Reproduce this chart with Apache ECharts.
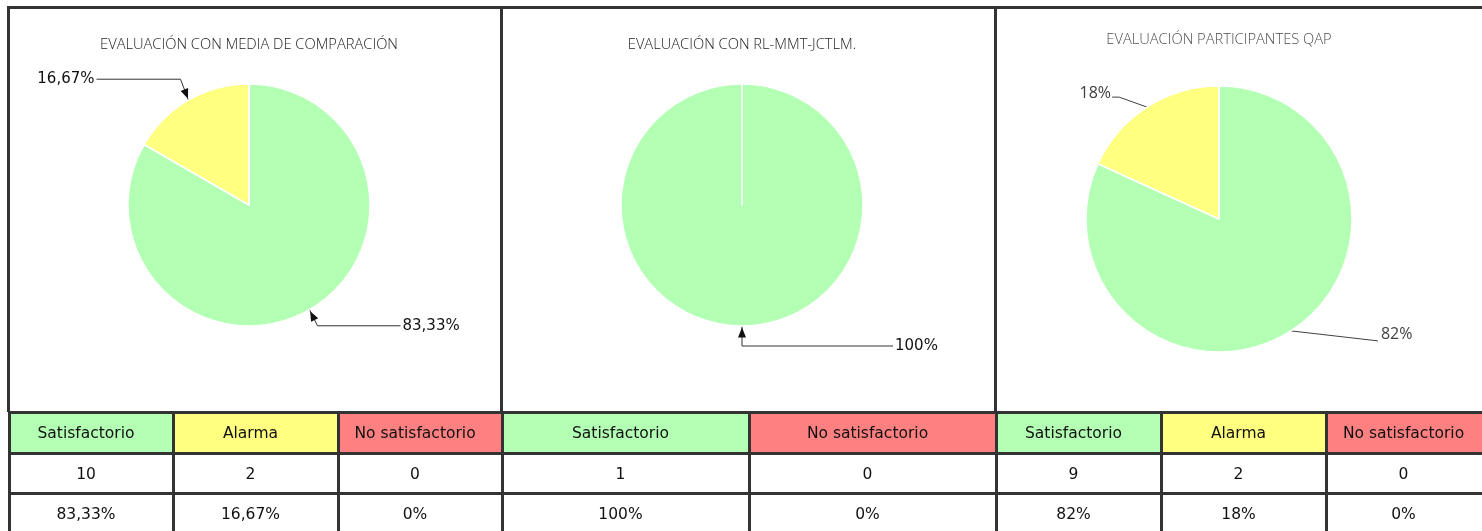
<!DOCTYPE html>
<html>
<head>
<meta charset="utf-8">
<script src="https://cdn.jsdelivr.net/npm/echarts@6.0.0/dist/echarts.min.js"></script>
<style>
  body { margin: 0; background: #fff; width: 1482px; height: 531px; overflow: hidden; position: relative; }
  #chart { position: absolute; left: 0; top: 0; width: 1482px; height: 410px; }
  .line { position: absolute; background: #333; }
  #tbl { position: absolute; left: 8px; top: 411px; border-collapse: collapse; table-layout: fixed;
         font-family: "DejaVu Sans", sans-serif; font-size: 15.5px; color: #111; }
  #tbl td { border: 3px solid #333; text-align: center; padding: 0 11px 0 0; overflow: hidden; white-space: nowrap; }
</style>
</head>
<body>
<div id="chart"></div>
<div class="line" style="left:7px;top:6px;width:1475px;height:3px"></div>
<div class="line" style="left:7px;top:6px;width:3px;height:406px"></div>
<div class="line" style="left:500px;top:6px;width:3px;height:406px"></div>
<div class="line" style="left:994px;top:6px;width:3px;height:406px"></div>
<table id="tbl"></table>
<script>
const titles = ["EVALUACIÓN CON MEDIA DE COMPARACIÓN", "EVALUACIÓN CON RL-MMT-JCTLM.", "EVALUACIÓN PARTICIPANTES QAP"];

const categories1 = ["Satisfactorio", "Alarma", "No satisfactorio"];
const counts1 = [10, 2, 0];
const percents1 = ["83,33%", "16,67%", "0%"];

const categories2 = ["Satisfactorio", "No satisfactorio"];
const counts2 = [1, 0];
const percents2 = ["100%", "0%"];

const categories3 = ["Satisfactorio", "Alarma", "No satisfactorio"];
const counts3 = [9, 2, 0];
const percents3 = ["82%", "18%", "0%"];

const colors = { "Satisfactorio": "#b3ffb3", "Alarma": "#ffff80", "No satisfactorio": "#ff8080" };

const panels = [
  { cats: categories1, counts: counts1, pcts: percents1 },
  { cats: categories2, counts: counts2, pcts: percents2 },
  { cats: categories3, counts: counts3, pcts: percents3 }
];

// table under the pies
const colWidths = [164, 165, 164, 247, 247, 165, 165, 165];
const tbl = document.getElementById("tbl");
const cg = document.createElement("colgroup");
colWidths.forEach(w => { const c = document.createElement("col"); c.style.width = w + "px"; cg.appendChild(c); });
tbl.appendChild(cg);
tbl.style.width = colWidths.reduce((a, b) => a + b, 0) + "px";
const rowHeights = [41, 40, 40];
for (let r = 0; r < 3; r++) {
  const tr = document.createElement("tr");
  tr.style.height = rowHeights[r] + "px";
  panels.forEach(p => {
    p.cats.forEach((c, i) => {
      const td = document.createElement("td");
      if (r === 0) { td.textContent = c; td.style.background = colors[c]; }
      else if (r === 1) td.textContent = p.counts[i];
      else td.textContent = p.pcts[i];
      tr.appendChild(td);
    });
  });
  tbl.appendChild(tr);
}

// pies (zero slices kept: they leave only their white edge, like the original)
const pieData = panels.map(p =>
  p.cats.map((c, i) => {
    const d = { name: c, value: p.counts[i], itemStyle: { color: colors[c] } };
    if (p.counts[i] === 0) {
      d.label = { show: false };
      d.labelLine = { show: false };
    }
    return d;
  })
);

const pieCenters = [[249, 205], [742, 205], [1219, 219]];
const pieRadius = [121, 121, 133];
const titleTops = [37, 37, 32];

// label guide lines: offset of the bend from the slice edge, then horizontal run
const guides = [
  { "Satisfactorio": { bend: [8, 16], run: 83, arrow: true }, "Alarma": { bend: [-8, -21], run: -84, arrow: true } },
  { "Satisfactorio": { bend: [0, 20], run: 151, arrow: true } },
  { "Satisfactorio": { bend: [87, 10], run: 0, lift: -6, gap: 3 }, "Alarma": { bend: [-28, -10], run: -7, lift: -4, gap: 1 } }
];
const labelFonts = [
  { fontFamily: "DejaVu Sans", fontSize: 15, color: "#111" },
  { fontFamily: "DejaVu Sans", fontSize: 15, color: "#111" },
  { fontFamily: "Open Sans", fontSize: 16, color: "#404040" }
];

const arrows = {};

function layoutFor(si) {
  return function (params) {
    const pts = params.labelLinePoints;
    const item = pieData[si][params.dataIndex];
    const g = item && guides[si][item.name];
    if (!pts || !g || item.value === 0) return {};
    const p0 = pts[0];
    const bend = [p0[0] + g.bend[0], p0[1] + g.bend[1]];
    const end = [bend[0] + g.run, bend[1]];
    const right = g.run < 0 || (g.run === 0 && g.bend[0] < 0);
    const gap = g.gap != null ? g.gap : 2;
    if (g.arrow) arrows[si + "-" + item.name] = { tip: p0, from: bend };
    return {
      x: end[0] + (right ? -gap : gap),
      y: end[1] + (g.lift || 0),
      align: right ? "right" : "left",
      verticalAlign: "middle",
      labelLinePoints: [p0, bend, end]
    };
  };
}

const chart = echarts.init(document.getElementById("chart"));
chart.setOption({
  animation: false,
  title: titles.map((t, i) => ({
    text: t,
    left: pieCenters[i][0],
    top: titleTops[i],
    textAlign: "center",
    padding: 0,
    textStyle: {
      fontFamily: "Open Sans",
      fontSize: 14.7,
      fontWeight: 300,
      color: i === 2 ? "#4d4d4d" : "#222"
    }
  })),
  series: pieData.map((data, si) => ({
    type: "pie",
    center: pieCenters[si],
    radius: pieRadius[si],
    startAngle: 90,
    clockwise: true,
    avoidLabelOverlap: false,
    data: data,
    itemStyle: { borderColor: "#fff", borderWidth: 1.5 },
    emphasis: { disabled: true },
    label: Object.assign({
      show: true,
      position: "outside",
      formatter: p => panels[si].pcts[panels[si].cats.indexOf(p.name)]
    }, labelFonts[si]),
    labelLine: {
      show: true,
      length: 10,
      length2: 10,
      lineStyle: { color: si === 2 ? "#404040" : "#333", width: 1 }
    },
    labelLayout: layoutFor(si)
  }))
});

function arrowHead(tip, from) {
  let dx = tip[0] - from[0], dy = tip[1] - from[1];
  const len = Math.sqrt(dx * dx + dy * dy) || 1;
  dx /= len; dy /= len;
  const t = [tip[0] - dx * 1.5, tip[1] - dy * 1.5];
  const b = [t[0] - dx * 10, t[1] - dy * 10];
  const nx = -dy * 4, ny = dx * 4;
  return {
    type: "polygon",
    z: 100,
    shape: { points: [t, [b[0] + nx, b[1] + ny], [b[0] - nx, b[1] - ny]] },
    style: { fill: "#111" }
  };
}

chart.setOption({ graphic: Object.values(arrows).map(a => arrowHead(a.tip, a.from)) });
</script>
</body>
</html>
